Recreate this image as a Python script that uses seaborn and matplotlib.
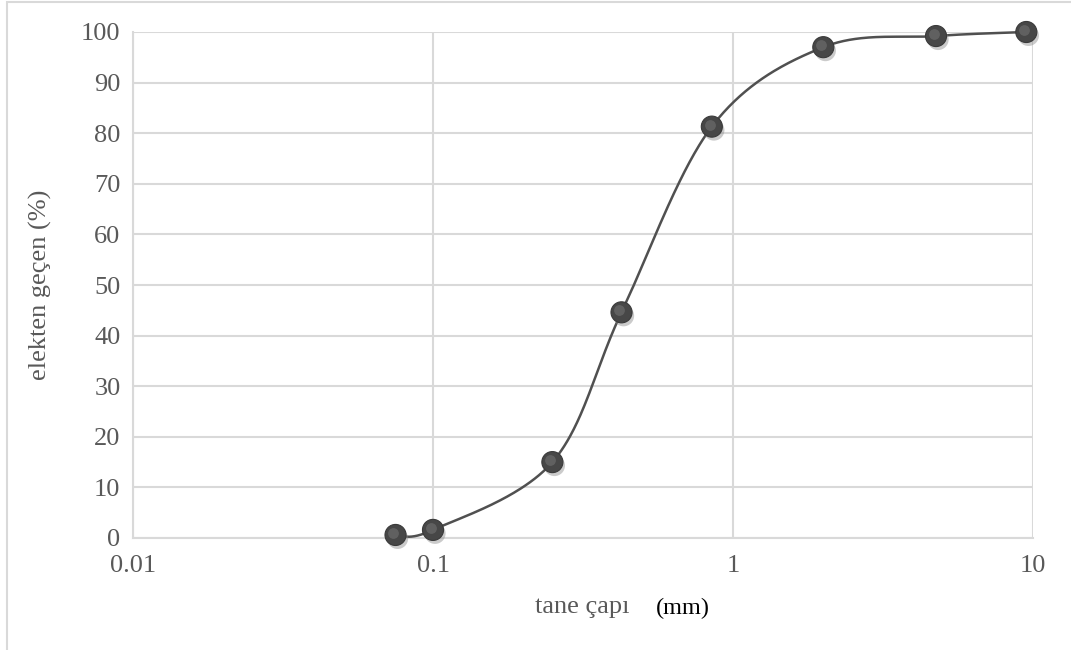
import numpy as np
import pandas as pd
import matplotlib
matplotlib.use("Agg")
import matplotlib.pyplot as plt
import matplotlib.patheffects as pe
import matplotlib.transforms as mtransforms
from matplotlib.patches import Rectangle
import seaborn as sns

# sieve analysis (grain size distribution)
sieve_mm = [0.075, 0.1, 0.25, 0.425, 0.85, 2.0, 4.75, 9.5]
passing_pct = [0.6, 1.6, 15.0, 44.6, 81.3, 97.0, 99.2, 100.0]
x_ticks = [0.01, 0.1, 1, 10]
x_tick_labels = ["0.01", "0.1", "1", "10"]
y_ticks = list(range(0, 101, 10))

df = pd.DataFrame({"sieve": sieve_mm, "passing": passing_pct})


def excel_smooth(xs, ys, n=80, w=900.0, h=506.0):
    # Excel-like smoothed line: Catmull-Rom bezier in screen space (log x)
    px = (np.log10(xs) + 2) / 3 * w
    py = np.asarray(ys) / 100 * h
    pts = np.column_stack([px, py])
    ext = np.vstack([pts[0], pts, pts[-1]])
    t = np.linspace(0, 1, n)[:, None]
    segs = []
    for i in range(len(pts) - 1):
        p0, p1, p2, p3 = ext[i], ext[i + 1], ext[i + 2], ext[i + 3]
        c1 = p1 + (p2 - p0) / 6
        c2 = p2 - (p3 - p1) / 6
        seg = (1 - t) ** 3 * p1 + 3 * (1 - t) ** 2 * t * c1 + 3 * (1 - t) * t ** 2 * c2 + t ** 3 * p2
        segs.append(seg if i == 0 else seg[1:])
    s = np.vstack(segs)
    return 10 ** (s[:, 0] / w * 3 - 2), s[:, 1] / h * 100


sx, sy = excel_smooth(df["sieve"].values, df["passing"].values)
curve = pd.DataFrame({"x": sx, "y": sy})

sns.set_theme(style="whitegrid")
plt.rcParams["font.family"] = ["Liberation Serif", "DejaVu Serif"]

fig = plt.figure(figsize=(10.71, 6.5), dpi=100)
ax = fig.add_axes([133 / 1071, 1 - 538 / 650, 900 / 1071, 506 / 650])

# outer chart border
fig.patches.append(Rectangle((7 / 1071, -0.1), 1.2, 1.1 - 2 / 650, transform=fig.transFigure,
                             fill=False, edgecolor="#d9d9d9", linewidth=1.5))

sns.lineplot(data=curve, x="x", y="y", ax=ax, color="#505050", linewidth=1.8, sort=False,
             estimator=None, zorder=3, clip_on=False)

shadow = [pe.SimplePatchShadow(offset=(1.5, -2.5), shadow_rgbFace="#8c8c8c", alpha=0.45), pe.Normal()]
sns.scatterplot(data=df, x="sieve", y="passing", ax=ax, s=230, color="#474747", edgecolor="#3a3a3a",
                linewidth=0.8, zorder=4, path_effects=shadow, clip_on=False)
hl = ax.transData + mtransforms.ScaledTranslation(-1.5 / 72, 1.5 / 72, fig.dpi_scale_trans)
ax.scatter(df["sieve"], df["passing"], s=60, color="#727272", linewidth=0, alpha=0.6, zorder=5,
           transform=hl, clip_on=False)

ax.set_xscale("log")
ax.set_xlim(0.01, 10)
ax.set_ylim(0, 100)
ax.set_xticks(x_ticks)
ax.set_xticklabels(x_tick_labels)
ax.set_yticks(y_ticks)
ax.minorticks_off()
ax.grid(True, color="#d9d9d9", linewidth=1.5)
ax.set_axisbelow(True)
for sp in ax.spines.values():
    sp.set_visible(False)
for side in ["left", "bottom"]:
    ax.spines[side].set_visible(True)
    ax.spines[side].set_color("#d9d9d9")
    ax.spines[side].set_linewidth(1.5)
ax.tick_params(axis="both", length=0, labelsize=19, labelcolor="#595959")
ax.tick_params(axis="x", pad=12)
ax.tick_params(axis="y", pad=9)
ax.set_xlabel("")
ax.set_ylabel("elekten geçen (%)", fontsize=19, color="#595959")
ax.yaxis.set_label_coords((52 - 133) / 900, 0.5)

fig.text(582 / 1071, 1 - 607 / 650, "tane çapı", ha="center", va="center", fontsize=19, color="#595959")
fig.text(683 / 1071, 1 - 608 / 650, "(mm)", ha="center", va="center", fontsize=17.5, color="black")

fig.savefig("out.png", dpi=100)
